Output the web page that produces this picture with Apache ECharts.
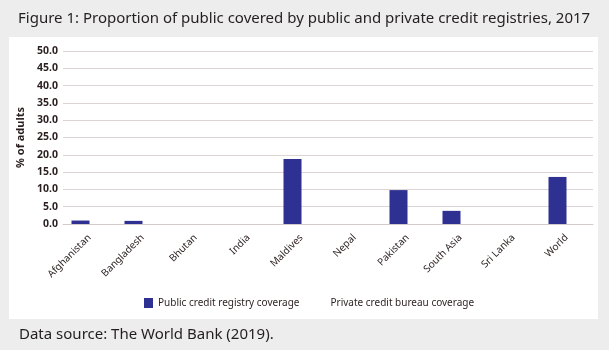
<!DOCTYPE html>
<html lang="en">
<head>
    <meta charset="utf-8">
    <script src="https://cdn.jsdelivr.net/npm/echarts@6/dist/echarts.min.js"></script>
    <style>
        html, body { margin:0; padding:0; background:#ededed; }
        #main { width:609px; height:350px; }
    </style>
</head>
<body>
<div id="main"></div>
<script type="text/javascript">
    var categories = ['Afghanistan', 'Bangladesh', 'Bhutan', 'India', 'Maldives', 'Nepal', 'Pakistan', 'South Asia', 'Sri Lanka', 'World'];
    var publicRegistry = [1.0, 0.9, 0, 0, 18.8, 0, 9.8, 3.8, 0, 13.6];
    var privateBureau = [0, 0, 0, 0, 0, 0, 0, 0, 0, 0];
    var yTicks = { min: 0, max: 50, interval: 5 };

    var textColor = '#2b1f1f';
    var myChart = echarts.init(document.getElementById('main'));
    myChart.setOption({
        backgroundColor: '#ededed',
        textStyle: { fontFamily: 'Noto Sans' },
        graphic: [{
            type: 'rect',
            z: -10,
            shape: { x: 9, y: 37, width: 589, height: 282 },
            style: { fill: '#ffffff' }
        }],
        title: [{
            text: 'Figure 1: Proportion of public covered by public and private credit registries, 2017',
            left: 18, top: 11, padding: 0,
            textStyle: { fontSize: 15, fontWeight: 'normal', color: '#231f20' }
        }, {
            text: 'Data source: The World Bank (2019).',
            left: 19, top: 327, padding: 0,
            textStyle: { fontSize: 15, fontWeight: 'normal', color: '#231f20' }
        }],
        legend: {
            left: 139, top: 293,
            itemWidth: 9, itemHeight: 10, itemGap: 17,
            icon: 'rect',
            textStyle: { fontSize: 10, color: textColor },
            data: [
                { name: 'Public credit registry coverage' },
                { name: 'Private credit bureau coverage' }
            ]
        },
        grid: { left: 63, right: 16, top: 51, bottom: 126 },
        xAxis: {
            type: 'category',
            data: categories,
            axisLine: { lineStyle: { color: '#d3cbc9' } },
            axisTick: { show: false },
            axisLabel: { rotate: 45, fontSize: 10, color: textColor, margin: 12, interval: 0 }
        },
        yAxis: {
            type: 'value',
            min: yTicks.min, max: yTicks.max, interval: yTicks.interval,
            name: '% of adults',
            nameLocation: 'middle',
            nameGap: 36,
            nameTextStyle: { fontSize: 11, fontWeight: 'bold', color: textColor },
            axisLabel: {
                fontSize: 10.5, fontWeight: 'bold', color: textColor, margin: 5,
                formatter: function (v) { return v.toFixed(1); }
            },
            splitLine: { lineStyle: { color: '#dcd5d3' } }
        },
        series: [{
            name: 'Public credit registry coverage',
            type: 'bar',
            data: publicRegistry,
            barWidth: 18,
            barGap: '0%',
            itemStyle: { color: '#2e3192' }
        }, {
            name: 'Private credit bureau coverage',
            type: 'bar',
            data: privateBureau,
            barWidth: 18,
            itemStyle: { color: '#ffffff' }
        }]
    });
</script>
</body>
</html>
